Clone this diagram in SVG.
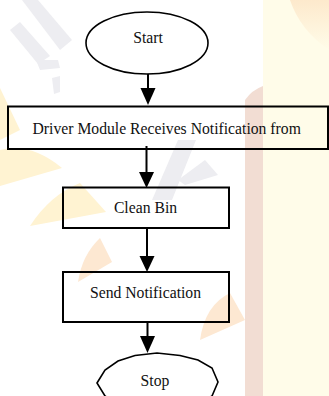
<svg xmlns="http://www.w3.org/2000/svg" width="329" height="396" viewBox="0 0 329 396">
  <defs>
    <style>
      .box { fill: none; stroke: #000; stroke-width: 2; }
      .term { fill: none; stroke: #000; stroke-width: 1.6; }
      .edge { stroke: #000; stroke-width: 2; fill: none; }
      .head { fill: #000; }
      .lbl { font-family: 'Liberation Serif', 'DejaVu Serif', serif; font-size: 15.7px; fill: #111; text-anchor: middle; }
      .wm-grey { fill: #ededf1; }
      .wm-yel { fill: #fff3d2; }
      .wm-org { fill: #fde8d2; }
    </style>
    <linearGradient id="topr" x1="0" y1="0" x2="0" y2="1">
      <stop offset="0" stop-color="#fde9cc"/>
      <stop offset="1" stop-color="#fffce9"/>
    </linearGradient>
  </defs>
  <rect width="329" height="396" fill="#fff"/>
  <g id="watermark">
    <rect x="263" y="0" width="66" height="396" fill="#fffce9"/>
    <path d="M290,0 L329,0 L329,50 Q300,30 290,0 Z" fill="url(#topr)"/>
    <path d="M245,100 Q252,90 263,86 L263,396 L245,396 Z" fill="#f2ddd3"/>
    <path class="wm-grey" d="M22,0 L38,0 L72,40 L60,50 Z"/>
    <path class="wm-grey" d="M10,30 L20,22 L50,56 L38,64 Z"/>
    <path class="wm-grey" d="M36,60 L58,60 L60,68 L40,70 Z"/>
    <path class="wm-grey" d="M52,78 L60,76 L60,92 L54,94 Z"/>
    <path class="wm-grey" d="M152,200 L172,200 L196,140 L178,140 Z"/>
    <path class="wm-grey" d="M178,180 L205,160 L218,175 L185,185 Z"/>
    <path class="wm-yel" d="M0,88 L20,130 L0,140 Z"/>
    <path class="wm-yel" d="M0,150 Q30,142 62,168 L0,186 Z"/>
    <path class="wm-yel" d="M30,226 Q50,195 80,183 L106,212 Z"/>
    <path class="wm-org" d="M78,282 Q82,255 100,238 L112,262 Z"/>
    <path class="wm-org" d="M200,340 Q205,305 230,293 L245,320 Z"/>
  </g>
  <g id="connectors">
    <line class="edge" x1="148" y1="74" x2="148" y2="90"/>
    <polygon class="head" points="140.5,88 155.5,88 148,105"/>
    <line class="edge" x1="146.5" y1="146" x2="146.5" y2="174"/>
    <polygon class="head" points="139,172 154,172 146.5,188"/>
    <line class="edge" x1="147" y1="228" x2="147" y2="258"/>
    <polygon class="head" points="139.5,256 154.5,256 147,272"/>
    <line class="edge" x1="147.5" y1="322" x2="147.5" y2="338"/>
    <polygon class="head" points="140,336 155,336 147.5,353"/>
  </g>
  <g id="start">
    <ellipse class="term" cx="147" cy="43" rx="61" ry="31"/>
    <text class="lbl" x="148" y="43" font-family="Liberation Serif, serif">Start</text>
  </g>
  <g id="receive">
    <rect class="box" x="8" y="106.5" width="320" height="42.5"/>
    <text class="lbl" x="166.7" y="134" font-family="Liberation Serif, serif">Driver Module Receives Notification from</text>
  </g>
  <g id="clean">
    <rect class="box" x="63" y="187.5" width="166" height="40.5"/>
    <text class="lbl" x="145.5" y="213" font-family="Liberation Serif, serif">Clean Bin</text>
  </g>
  <g id="send">
    <rect class="box" x="63" y="272" width="166" height="50"/>
    <text class="lbl" x="145.5" y="298" font-family="Liberation Serif, serif">Send Notification</text>
  </g>
  <g id="stop">
    <polygon class="term" points="97,383 105,370 118,361 135,355.5 157,353 180,355.5 198,360 212,368 218,382 212,396 198,404 180,410 157,413 135,410 118,404 105,396"/>
    <text class="lbl" x="155" y="386" font-family="Liberation Serif, serif">Stop</text>
  </g>
</svg>
